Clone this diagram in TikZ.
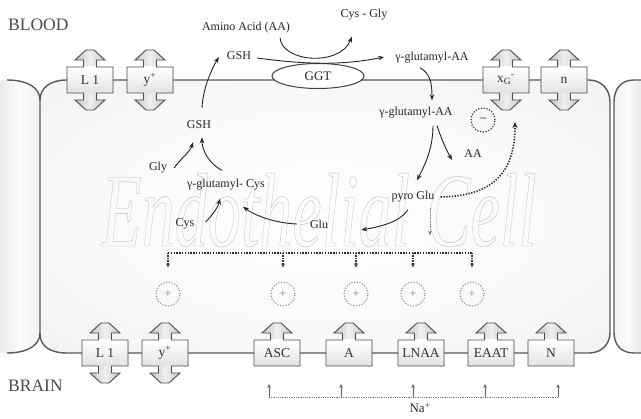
\documentclass[tikz,border=0pt]{standalone}
\usepackage{fontspec}
\setmainfont{Liberation Serif}
\usetikzlibrary{arrows.meta,calc,shapes.geometric}
\newcommand\outlinetext[1]{\special{pdf:literal direct 1 Tr 0.4 w}#1\special{pdf:literal direct 0 Tr}}
\pgfdeclareradialshading{cellshade}{\pgfpoint{0bp}{0bp}}{color(0bp)=(gray!1); color(18bp)=(gray!4); color(40bp)=(gray!11); color(50bp)=(gray!14)}
\tikzset{
  lab/.style={font=\fontsize{12}{13}\selectfont, inner sep=1pt, text=black!85},
  big/.style={font=\fontsize{17.5}{18}\selectfont, inner sep=0pt, text=black!70},
  tlab/.style={font=\fontsize{13.5}{14}\selectfont, inner sep=0pt, text=black!80},
  arr/.style={-{Stealth[length=6pt,width=4.5pt]}, line width=0.9pt, black!85},
  dotarr/.style={-{Stealth[length=6pt,width=5pt]}, line width=1.6pt, dash pattern=on 1.3pt off 1.5pt, black!85},
  dotline/.style={line width=1.6pt, dash pattern=on 1.3pt off 1.5pt, black!85},
  smalldot/.style={-{Stealth[length=4pt,width=4pt]}, line width=1.3pt, dash pattern=on 1.2pt off 1.3pt, black!80},
  thindot/.style={line width=0.8pt, dash pattern=on 0.9pt off 0.9pt, gray},
  thinarr/.style={-{Stealth[length=4pt,width=3.5pt]}, line width=0.6pt, gray!80!black},
  cellline/.style={draw=black!65, line width=1.4pt},
  tline/.style={draw=black!70, line width=0.9pt, line join=miter},
  tshade/.style={left color=gray!65, right color=gray!65, middle color=gray!12},
  tbox/.style={top color=white, bottom color=gray!22},
  plusc/.style={circle, minimum size=24pt, draw=gray!85, line width=1.1pt, dash pattern=on 1.2pt off 1.6pt, text=gray, inner sep=0pt, font=\fontsize{12}{12}\selectfont},
  minusc/.style={circle, minimum size=24pt, draw=black!80, line width=1.2pt, dash pattern=on 1.2pt off 1.6pt, text=black!85, inner sep=0pt, font=\fontsize{13}{13}\selectfont},
  pics/dtrans/.style={code={
    \shade[tshade] (-23,-13) -- (-6.5,-13) -- (-6.5,-20) -- (-15,-20) -- (-4,-30) -- (4,-30) -- (15,-20) -- (6.5,-20) -- (6.5,-13) -- (23,-13) -- (23,13) -- (6.5,13) -- (6.5,20) -- (15,20) -- (4,30) -- (-4,30) -- (-15,20) -- (-6.5,20) -- (-6.5,13) -- (-23,13) -- cycle;
    \shade[tbox] (-23,-13) rectangle (23,13);
    \draw[tline] (-23,-13) -- (-6.5,-13) -- (-6.5,-20) -- (-15,-20) -- (-4,-30) -- (4,-30) -- (15,-20) -- (6.5,-20) -- (6.5,-13) -- (23,-13) -- (23,13) -- (6.5,13) -- (6.5,20) -- (15,20) -- (4,30) -- (-4,30) -- (-15,20) -- (-6.5,20) -- (-6.5,13) -- (-23,13) -- cycle;
    \coordinate (-b) at (0,30);
    \node[tlab] (-l) at (0,0) {#1};
  }},
  pics/utrans/.style={code={
    \shade[tshade] (-23,-13) -- (-6.5,-13) -- (-6.5,-20) -- (-15,-20) -- (-4,-30) -- (4,-30) -- (15,-20) -- (6.5,-20) -- (6.5,-13) -- (23,-13) -- (23,13) -- (-23,13) -- cycle;
    \shade[tbox] (-23,-13) rectangle (23,13);
    \draw[tline] (-23,-13) -- (-6.5,-13) -- (-6.5,-20) -- (-15,-20) -- (-4,-30) -- (4,-30) -- (15,-20) -- (6.5,-20) -- (6.5,-13) -- (23,-13) -- (23,13) -- (-23,13) -- cycle;
    \coordinate (-b) at (0,13);
    \node[tlab] (-l) at (0,0) {#1};
  }}
}
\begin{document}
\begin{tikzpicture}[x=1pt,y=-1pt]
\useasboundingbox (0,0) rectangle (641,419);
\fill[white] (0,0) rectangle (641,419);
% neighbour cells
\shade[left color=gray!16, right color=gray!11, middle color=gray!2] (0,80) -- (7,80) .. controls (28,80) and (40,88) .. (40,100) -- (40,333) .. controls (40,345) and (28,353) .. (7,353) -- (0,353) -- cycle;
\shade[left color=gray!11, right color=gray!16, middle color=gray!2] (641,80) -- (634,80) .. controls (621,80) and (614,89) .. (614,102) -- (614,332) .. controls (614,345) and (621,353) .. (634,353) -- (641,353) -- cycle;
% endothelial cell
\shade[shading=cellshade] (67,80) -- (589,80) .. controls (601,80) and (610,89) .. (610,102) -- (610,332) .. controls (610,345) and (601,353) .. (589,353) -- (67,353) .. controls (50,353) and (40,346) .. (40,334) -- (40,100) .. controls (40,88) and (50,80) .. (67,80) -- cycle;
% watermark
\node[anchor=base, inner sep=0pt, text=gray!55] (wm) at (319,246) {\scalebox{0.63}[1]{\fontsize{105}{105}\selectfont\itshape\outlinetext{Endothelial Cell}}};
% outlines
\draw[cellline] (7,80) .. controls (28,80) and (40,88) .. (40,100);
\draw[cellline] (7,353) .. controls (28,353) and (40,345) .. (40,333);
\draw[cellline] (641,80) -- (634,80) .. controls (621,80) and (614,89) .. (614,102) -- (614,332) .. controls (614,345) and (621,353) .. (634,353) -- (641,353);
\draw[cellline] (67,80) -- (589,80) .. controls (601,80) and (610,89) .. (610,102) -- (610,332) .. controls (610,345) and (601,353) .. (589,353) -- (67,353) .. controls (50,353) and (40,346) .. (40,334) -- (40,100) .. controls (40,88) and (50,80) .. (67,80) -- cycle;
% transporters
\pic (tL1) at (90,80) {dtrans={L 1}};
\pic (typ) at (150,80) {dtrans={y\textsuperscript{+}}};
\pic (txg) at (506,80) {dtrans={x\textsubscript{G}\textsuperscript{-}}};
\pic (tn) at (564,80) {dtrans={n}};
\pic (bL1) at (105,353) {dtrans={L 1}};
\pic (byp) at (165,353) {dtrans={y\textsuperscript{+}}};
\pic (tASC) at (277,353) {utrans={ASC}};
\pic (tA) at (349,353) {utrans={A}};
\pic (tLNAA) at (421,353) {utrans={LNAA}};
\pic (tEAAT) at (491,353) {utrans={EAAT}};
\pic (tN) at (551,353) {utrans={N}};
% GGT
\node[ellipse, draw=black!75, line width=1pt, fill=white, minimum width=92pt, minimum height=25pt, lab, font=\fontsize{13}{13}\selectfont] (ggt) at (318,76) {GGT};
% labels
\node[big, anchor=west] (blood) at (8,25) {BLOOD};
\node[big, anchor=west] (brain) at (8,386) {BRAIN};
\node[lab] (aa) at (246,28) {Amino Acid (AA)};
\node[lab] (cysgly) at (364,15) {Cys - Gly};
\node[lab] (gsht) at (239,56) {GSH};
\node[lab] (gaa1) at (432,58) {γ-glutamyl-AA};
\node[lab] (gaa2) at (416,113) {γ-glutamyl-AA};
\node[lab] (aa2) at (473,154) {AA};
\node[lab] (pglu) at (413,197) {pyro Glu};
\node[lab] (glu) at (319,224) {Glu};
\node[lab] (gcys) at (226,185) {γ-glutamyl- Cys};
\node[lab] (cys) at (185,224) {Cys};
\node[lab] (gly) at (158,168) {Gly};
\node[lab] (gshm) at (199,125) {GSH};
\node[lab, font=\fontsize{13}{13}\selectfont] (na) at (420,408) {Na\textsuperscript{+}};
\node[minusc] (minus) at (483,120) {–};
\node[plusc] (p1) at (168,294) {+};
\node[plusc] (p2) at (283,294) {+};
\node[plusc] (p3) at (356,294) {+};
\node[plusc] (p4) at (413,294) {+};
\node[plusc] (p5) at (472,294) {+};
% reaction arrows
\draw[arr] ($(gshm.north)+(3,-12)$) .. controls +(1,-20) and +(-7,12) .. ($(gsht.west)+(-7,1)$);
\draw[arr] ($(gly.east)+(6,0)$) .. controls +(5,-8) and +(-3,10) .. ($(gshm.south)+(-6,12)$);
\draw[arr] ($(gcys.north)+(-4,-8)$) .. controls +(-12,-6) and +(0,14) .. ($(gshm.south)+(3,7)$);
\draw[arr] ($(cys.east)+(10,-2)$) .. controls +(6,-6) and +(-2,9) .. ($(gcys.south)+(-6,7)$);
\draw[arr] ($(glu.west)+(-12,0)$) .. controls +(-22,-1) and +(12,9) .. ($(gcys.south)+(17,15)$);
\draw[arr] ($(pglu.south)+(-5,6)$) .. controls +(-8,12) and +(22,-4) .. ($(glu.east)+(32,6)$);
\draw[arr] ($(gaa2.south)+(17,6)$) .. controls +(0,25) and +(6,-12) .. ($(pglu.north)+(4,-10)$);
\draw[arr] ($(gaa2.south)+(21,6)$) .. controls +(4,12) and +(-6,-10) .. ($(aa2.west)+(-11,6)$);
\draw[arr] ($(gaa1.south)+(-12,3)$) .. controls +(10,6) and +(0,-18) .. ($(gaa2.north)+(16,-6)$);
\draw[arr] ($(gsht.east)+(5,2)$) .. controls +(45,6) and +(-45,9) .. ($(gaa1.west)+(-10,-1)$);
\draw[arr] ($(aa.south)+(34,3)$) .. controls +(2,25) and +(-12,30) .. ($(cysgly.south)+(-12,15)$);
% dotted signalling arrows
\draw[dotarr] ($(pglu.east)+(5,0)$) .. controls +(55,-1) and +(0,48) .. ($(txg-b)+(9,12)$);
\draw[thindot, -{Stealth[length=5pt,width=4pt]}] ($(pglu.south)+(17,4)$) -- ($(pglu.south)+(17,32)$);
\coordinate (d1) at (168,253);
\coordinate (d2) at (283,253);
\coordinate (d3) at (356,253);
\coordinate (d4) at (413,253);
\coordinate (d5) at (472,253);
\draw[dotline] (d1) -- (d5);
\foreach \i in {1,...,5} { \draw[smalldot, shorten >=14pt] (d\i) -- (p\i.north); }
% Na+ bracket
\coordinate (n1) at (269,397);
\coordinate (n5) at (558,397);
\draw[thindot] (n1) -- (n5);
\draw[thinarr] (n1) -- ($(tASC-b)+(-8,18)$);
\draw[thinarr] (341,397) -- ($(tA-b)+(-8,18)$);
\draw[thinarr] (413,397) -- ($(tLNAA-b)+(-8,18)$);
\draw[thinarr] (485,397) -- ($(tEAAT-b)+(-6,18)$);
\draw[thinarr] (n5) -- ($(tN-b)+(7,18)$);
\end{tikzpicture}
\end{document}
